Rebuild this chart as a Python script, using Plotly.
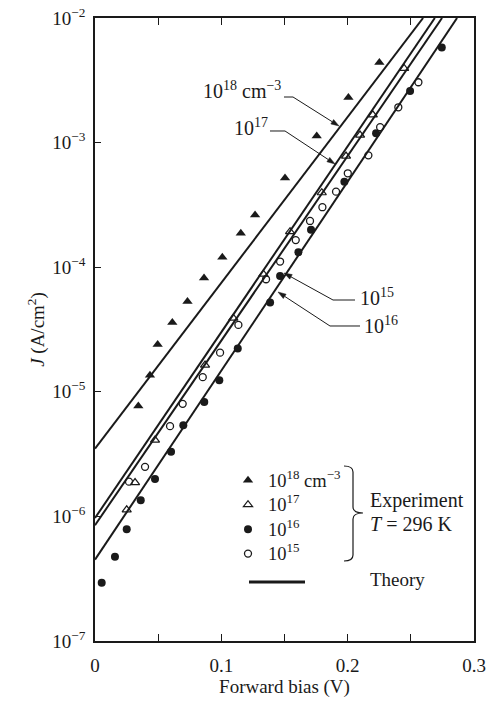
import math
import plotly.graph_objects as go

# ---------------- data ----------------
# Experimental points, N_D = 1e18 cm^-3 (filled triangles)
V_18 = [0.0343, 0.0435, 0.0496, 0.0612, 0.0732, 0.0863, 0.1008, 0.1154, 0.1267, 0.1504, 0.1755, 0.2006, 0.2251]
J_18 = [7.7e-6, 1.36e-5, 2.4e-5, 3.6e-5, 5.3e-5, 8.2e-5, 1.2e-4, 1.87e-4, 2.62e-4, 5.2e-4, 1.13e-3, 2.3e-3, 4.4e-3]

# 1e17 cm^-3 (open triangles)
V_17 = [0.0251, 0.0317, 0.0475, 0.0871, 0.1095, 0.1333, 0.1544, 0.1795, 0.1987, 0.2098, 0.2199, 0.2447]
J_17 = [1.13e-6, 1.87e-6, 4.1e-6, 1.64e-5, 3.9e-5, 8.8e-5, 1.93e-4, 3.96e-4, 7.8e-4, 1.15e-3, 1.67e-3, 3.94e-3]

# 1e16 cm^-3 (filled circles)
V_16 = [0.0053, 0.0158, 0.0251, 0.0362, 0.0475, 0.0602, 0.0699, 0.0865, 0.0984, 0.1130,
        0.1386, 0.1465, 0.1610, 0.1710, 0.1974, 0.2225, 0.2494, 0.2745]
J_16 = [2.94e-7, 4.75e-7, 7.9e-7, 1.35e-6, 2.0e-6, 3.3e-6, 5.4e-6, 8.3e-6, 1.24e-5, 2.23e-5,
        5.2e-5, 8.5e-5, 1.32e-4, 2.0e-4, 4.85e-4, 1.19e-3, 2.6e-3, 5.8e-3]

# 1e15 cm^-3 (open circles)
V_15 = [0.0269, 0.0396, 0.0594, 0.0694, 0.0853, 0.0990, 0.1135, 0.1354, 0.1465, 0.1589,
        0.1702, 0.1800, 0.1908, 0.2001, 0.2164, 0.2257, 0.2401, 0.2560]
J_15 = [1.9e-6, 2.5e-6, 5.3e-6, 8.0e-6, 1.31e-5, 2.06e-5, 3.44e-5, 8.0e-5, 1.11e-4, 1.65e-4,
        2.35e-4, 3.03e-4, 4.04e-4, 5.67e-4, 7.9e-4, 1.33e-3, 1.92e-3, 3.05e-3]

# Theory lines: straight on the log plot, from V = 0 up to the top of the frame
theory_names = ["1e18", "1e17", "1e15", "1e16"]
theory_V = [[0.0, 0.2597], [0.0, 0.2690], [0.0, 0.2747], [0.0, 0.2866]]
theory_J = [[3.5e-6, 1e-2], [9.7e-7, 1e-2], [8.5e-7, 1e-2], [4.5e-7, 1e-2]]

x_tickvals = [0, 0.1, 0.2, 0.3]
x_ticktext = ["0", "0.1", "0.2", "0.3"]
y_tickvals = [1e-7, 1e-6, 1e-5, 1e-4, 1e-3, 1e-2]
y_ticktext = ["10<sup>−7</sup>", "10<sup>−6</sup>", "10<sup>−5</sup>",
              "10<sup>−4</sup>", "10<sup>−3</sup>", "10<sup>−2</sup>"]

legend_names = ["10<sup>18</sup> cm<sup>−3</sup>", "10<sup>17</sup>", "10<sup>16</sup>", "10<sup>15</sup>"]

# ---------------- layout helpers ----------------
W, H = 486, 702
ML, MR, MT, MB = 95, 12, 18, 61
PW, PH = W - ML - MR, H - MT - MB
FONT = "Liberation Serif"
INK = "#1a1a1a"


def px(x):
    return (x - ML) / PW


def py(y):
    return (H - MB - y) / PH


def P(x, y):
    return f"{px(x):.5f},{py(y):.5f}"


def big(t):
    return f'<span style="font-size:18.5px">{t}</span>'


fig = go.Figure()

for v, j in zip(theory_V, theory_J):
    fig.add_trace(go.Scatter(x=v, y=j, mode="lines", line=dict(color=INK, width=2),
                             showlegend=False, hoverinfo="skip"))

fig.add_trace(go.Scatter(x=V_18, y=J_18, mode="markers", name=big(legend_names[0]),
                         marker=dict(symbol="triangle-up", size=9, color=INK)))
fig.add_trace(go.Scatter(x=V_17, y=J_17, mode="markers", name=big(legend_names[1]),
                         marker=dict(symbol="triangle-up-open", size=8, color=INK,
                                     line=dict(width=1.2))))
fig.add_trace(go.Scatter(x=V_16, y=J_16, mode="markers", name=big(legend_names[2]),
                         marker=dict(symbol="circle", size=8, color=INK)))
fig.add_trace(go.Scatter(x=V_15, y=J_15, mode="markers", name=big(legend_names[3]),
                         marker=dict(symbol="circle-open", size=7, color=INK,
                                     line=dict(width=1.3))))

shapes = []
annotations = []

# leader lines + arrows for the curve labels
leaders = [
    ("10<sup>18</sup> cm<sup>−3</sup>", 283, 90, "right", (284, 97), (293, 97), (339, 126)),
    ("10<sup>17</sup>", 270, 127, "right", (270, 131), (285, 131), (335, 164)),
    ("10<sup>15</sup>", 358, 297, "left", (355, 300), (333, 300), (284, 273)),
    ("10<sup>16</sup>", 362, 325, "left", (360, 326), (330, 326), (278, 292)),
]
for text, tx, ty, anchor, start, knee, tip in leaders:
    annotations.append(dict(text=text, x=px(tx), y=py(ty), xref="paper", yref="paper",
                            xanchor=anchor, yanchor="middle", showarrow=False,
                            font=dict(family=FONT, size=20, color=INK)))
    # arrowhead geometry
    dx, dy = tip[0] - knee[0], tip[1] - knee[1]
    L = math.hypot(dx, dy)
    ux, uy = dx / L, dy / L
    hl, hw = 8.0, 2.6
    bx, by = tip[0] - ux * hl, tip[1] - uy * hl
    l1 = (bx - uy * hw, by + ux * hw)
    l2 = (bx + uy * hw, by - ux * hw)
    shapes.append(dict(type="path", xref="paper", yref="paper",
                       path=f"M {P(*start)} L {P(*knee)} L {P(bx, by)}",
                       line=dict(color=INK, width=1)))
    shapes.append(dict(type="path", xref="paper", yref="paper",
                       path=f"M {P(*tip)} L {P(*l1)} L {P(*l2)} Z",
                       fillcolor=INK, line=dict(color=INK, width=0.5)))

# curly brace next to the legend
bx0, bx1, btip = 344, 353, 363
by0, bym, by1 = 466, 513, 561
brace = (f"M {P(bx0, by0)} Q {P(bx1, by0)} {P(bx1, by0 + 6)} L {P(bx1, bym - 6)} "
         f"Q {P(bx1, bym)} {P(btip, bym)} Q {P(bx1, bym)} {P(bx1, bym + 6)} "
         f"L {P(bx1, by1 - 6)} Q {P(bx1, by1)} {P(bx0, by1)}")
shapes.append(dict(type="path", xref="paper", yref="paper", path=brace,
                   line=dict(color=INK, width=1.2)))

# theory key
shapes.append(dict(type="line", xref="paper", yref="paper",
                   x0=px(249), x1=px(305), y0=py(582), y1=py(582),
                   line=dict(color=INK, width=3)))
annotations.append(dict(text="Theory", x=px(368), y=py(579), xref="paper", yref="paper",
                        xanchor="left", yanchor="middle", showarrow=False,
                        font=dict(family=FONT, size=19, color=INK)))
annotations.append(dict(text="Experiment", x=px(368), y=py(500), xref="paper", yref="paper",
                        xanchor="left", yanchor="middle", showarrow=False,
                        font=dict(family=FONT, size=20, color=INK)))
annotations.append(dict(text="<i>T</i> = 296 K", x=px(368), y=py(524), xref="paper", yref="paper",
                        xanchor="left", yanchor="middle", showarrow=False,
                        font=dict(family=FONT, size=20, color=INK)))

fig.update_layout(
    width=W, height=H,
    margin=dict(l=ML, r=MR, t=MT, b=MB, autoexpand=False),
    plot_bgcolor="white", paper_bgcolor="white",
    font=dict(family=FONT, size=19, color=INK),
    shapes=shapes, annotations=annotations,
    showlegend=True,
    legend=dict(x=px(228), y=py(463), xanchor="left", yanchor="top",
                bgcolor="rgba(0,0,0,0)", borderwidth=0,
                font=dict(family=FONT, size=16.5, color=INK),
                tracegroupgap=0, itemsizing="trace"),
)

fig.update_xaxes(range=[0, 0.3], tickvals=x_tickvals, ticktext=x_ticktext,
                 ticks="inside", ticklen=7, tickwidth=1.2, tickcolor=INK,
                 minor=dict(dtick=0.05, tick0=0, ticks="inside", ticklen=7, tickwidth=1.2,
                            tickcolor=INK, showgrid=False),
                 showline=True, linewidth=1.5, linecolor=INK, mirror="ticks",
                 showgrid=False, zeroline=False, ticklabelstandoff=6, automargin=False,
                 tickfont=dict(family=FONT, size=19, color=INK),
                 title=dict(text="Forward bias (V)", font=dict(family=FONT, size=19, color=INK),
                            standoff=3))
fig.update_yaxes(type="log", range=[-7, -2], tickvals=y_tickvals, ticktext=y_ticktext,
                 ticks="inside", ticklen=6, tickwidth=1.2, tickcolor=INK,
                 showline=True, linewidth=1.5, linecolor=INK, mirror=True,
                 showgrid=False, zeroline=False, ticklabelstandoff=4, automargin=False,
                 tickfont=dict(family=FONT, size=19, color=INK),
                 title=dict(text="<i>J</i> (A/cm<sup>2</sup>)", font=dict(family=FONT, size=19, color=INK),
                            standoff=3))

fig.write_html("out.html")
